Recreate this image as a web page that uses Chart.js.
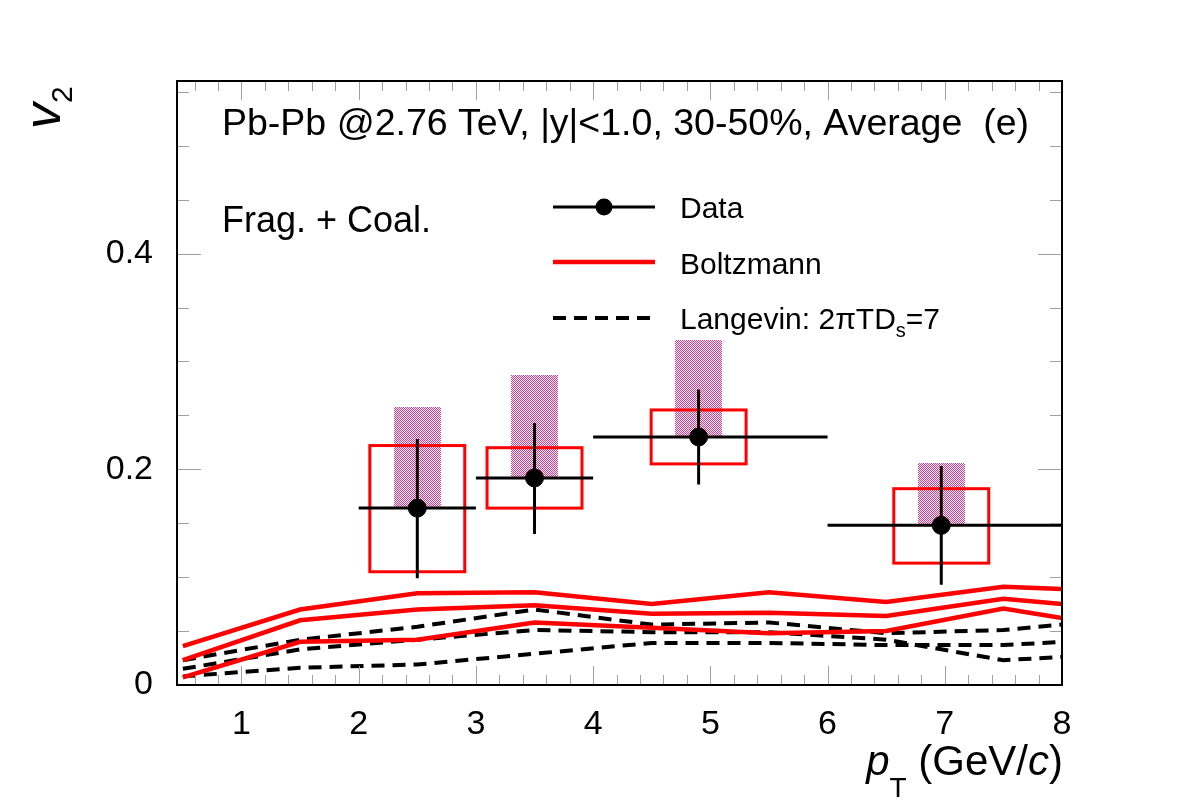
<!DOCTYPE html>
<html>
<head>
<meta charset="utf-8">
<script src="https://cdn.jsdelivr.net/npm/chart.js@4.4.0/dist/chart.umd.min.js"></script>
<style>
  body { margin: 0; background: #fff; }
  #wrap { width: 1182px; height: 807px; }
</style>
</head>
<body>
<div id="wrap"><canvas id="myChart" width="1182" height="807"></canvas></div>
<script>
// model curves, pT grid
var ptGrid     = [0.5, 1.5, 2.5, 3.5, 4.5, 5.5, 6.5, 7.5, 8.0];
var boltzUpper = [0.036, 0.070, 0.085, 0.086, 0.075, 0.086, 0.077, 0.091, 0.089];
var boltzMid   = [0.023, 0.060, 0.070, 0.074, 0.066, 0.067, 0.064, 0.080, 0.075];
var boltzLower = [0.007, 0.040, 0.042, 0.058, 0.053, 0.048, 0.050, 0.071, 0.062];
var langUpper  = [0.023, 0.042, 0.054, 0.070, 0.056, 0.058, 0.048, 0.051, 0.056];
var langMid    = [0.015, 0.033, 0.042, 0.051, 0.049, 0.049, 0.042, 0.023, 0.026];
var langLower  = [0.008, 0.016, 0.019, 0.029, 0.039, 0.039, 0.037, 0.037, 0.040];

// data points
var dataX   = [2.5, 3.5, 4.9, 6.97];
var dataY   = [0.164, 0.192, 0.230, 0.148];
var binLo   = [2.0, 3.0, 4.0, 6.0];
var binHi   = [3.0, 4.0, 6.0, 8.0];
var statLo  = [0.099, 0.140, 0.186, 0.093];
var statHi  = [0.228, 0.243, 0.274, 0.203];
var sysLo   = [0.105, 0.164, 0.205, 0.113];
var sysHi   = [0.222, 0.220, 0.255, 0.182];
var nfHi    = [0.258, 0.287, 0.320, 0.206];

var xTicks = [1, 2, 3, 4, 5, 6, 7, 8];
var yTicks = [0, 0.2, 0.4];

var sysHalfW = 0.405;
var nfHalfW = 0.2;
var FONT = '"Liberation Sans", Arial, sans-serif';

function pts(xs, ys) {
  return xs.map(function(x, i) { return {x: x, y: ys[i]}; });
}

// checker pattern for the pink boxes
var pc = document.createElement('canvas');
pc.width = 2; pc.height = 2;
var pctx = pc.getContext('2d');
pctx.fillStyle = '#ffffff'; pctx.fillRect(0, 0, 2, 2);
pctx.fillStyle = '#f0308a'; pctx.fillRect(0, 0, 1, 1); pctx.fillRect(1, 1, 1, 1);

var boxesPlugin = {
  id: 'boxes',
  beforeDatasetsDraw: function(chart) {
    var ctx = chart.ctx, x = chart.scales.x, y = chart.scales.y;
    ctx.save();
    var pat = ctx.createPattern(pc, 'repeat');
    for (var i = 0; i < dataX.length; i++) {
      var l = x.getPixelForValue(dataX[i] - nfHalfW), r = x.getPixelForValue(dataX[i] + nfHalfW);
      var t = y.getPixelForValue(nfHi[i]), b = y.getPixelForValue(dataY[i]);
      ctx.fillStyle = pat;
      ctx.fillRect(Math.round(l), Math.round(t), Math.round(r - l), Math.round(b - t));
    }
    ctx.strokeStyle = '#ff0000';
    ctx.lineWidth = 3;
    for (var i = 0; i < dataX.length; i++) {
      var l = x.getPixelForValue(dataX[i] - sysHalfW), r = x.getPixelForValue(dataX[i] + sysHalfW);
      var t = y.getPixelForValue(sysHi[i]), b = y.getPixelForValue(sysLo[i]);
      ctx.strokeRect(l, t, r - l, b - t);
    }
    ctx.strokeStyle = '#000';
    ctx.lineWidth = 3;
    for (var i = 0; i < dataX.length; i++) {
      var px = x.getPixelForValue(dataX[i]), py = y.getPixelForValue(dataY[i]);
      ctx.beginPath();
      ctx.moveTo(x.getPixelForValue(binLo[i]), py);
      ctx.lineTo(x.getPixelForValue(binHi[i]), py);
      ctx.moveTo(px, y.getPixelForValue(statLo[i]));
      ctx.lineTo(px, y.getPixelForValue(statHi[i]));
      ctx.stroke();
    }
    ctx.restore();
  }
};

function drawRich(ctx, parts, x, y) {
  // parts: [text, font, dy]
  parts.forEach(function(p) {
    ctx.font = p[1];
    ctx.fillText(p[0], x, y + (p[2] || 0));
    x += ctx.measureText(p[0]).width;
  });
  return x;
}

function richWidth(ctx, parts) {
  var w = 0;
  parts.forEach(function(p) { ctx.font = p[1]; w += ctx.measureText(p[0]).width; });
  return w;
}

var framePlugin = {
  id: 'frame',
  afterDraw: function(chart) {
    var ctx = chart.ctx, x = chart.scales.x, y = chart.scales.y, a = chart.chartArea;
    ctx.save();
    // ticks
    ctx.strokeStyle = '#a0a0a0';
    ctx.lineWidth = 1;
    ctx.beginPath();
    for (var v = 0.6; v < 8.01; v += 0.2) {
      var px = Math.round(x.getPixelForValue(v)) + 0.5;
      var major = Math.abs(v - Math.round(v)) < 0.01;
      var len = major ? 19 : 10;
      ctx.moveTo(px, a.bottom); ctx.lineTo(px, a.bottom - len);
      ctx.moveTo(px, a.top); ctx.lineTo(px, a.top + len);
    }
    for (var k = 1; k * 0.05 < 0.56; k++) {
      var w = k * 0.05;
      var py = Math.round(y.getPixelForValue(w)) + 0.5;
      var len = (k % 4 === 0) ? 24 : 12;
      ctx.moveTo(a.left, py); ctx.lineTo(a.left + len, py);
      ctx.moveTo(a.right, py); ctx.lineTo(a.right - len, py);
    }
    ctx.stroke();
    // frame
    ctx.strokeStyle = '#000';
    ctx.lineWidth = 2;
    ctx.strokeRect(a.left, a.top, a.right - a.left, a.bottom - a.top);

    // tick labels
    ctx.fillStyle = '#000';
    ctx.font = '34px ' + FONT;
    ctx.textAlign = 'center';
    ctx.textBaseline = 'alphabetic';
    xTicks.forEach(function(t) {
      ctx.fillText(String(t), x.getPixelForValue(t), 734);
    });
    ctx.textAlign = 'right';
    ctx.textBaseline = 'middle';
    yTicks.forEach(function(t) {
      ctx.fillText(String(t), 153, y.getPixelForValue(t));
    });

    // axis titles
    ctx.textAlign = 'left';
    ctx.textBaseline = 'alphabetic';
    var xt = [['p', 'italic 42px ' + FONT], ['T', '28px ' + FONT, 22], [' (GeV/', '42px ' + FONT],
              ['c', 'italic 42px ' + FONT], [')', '42px ' + FONT]];
    drawRich(ctx, xt, 1063 - richWidth(ctx, xt), 775);

    ctx.save();
    ctx.translate(60, 129);
    ctx.rotate(-Math.PI / 2);
    drawRich(ctx, [['v', 'italic 52px ' + FONT], ['2', '30px ' + FONT, 12]], 0, 0);
    ctx.restore();

    // labels
    ctx.font = '37.5px ' + FONT;
    ctx.fillText('Pb-Pb @2.76 TeV, |y|<1.0, 30-50%, Average  (e)', 222, 135);
    ctx.font = '36px ' + FONT;
    ctx.fillText('Frag. + Coal.', 222, 232);

    // legend
    var lx0 = 553, lx1 = 655, tx = 680;
    ctx.lineWidth = 3;
    ctx.strokeStyle = '#000';
    ctx.beginPath(); ctx.moveTo(lx0, 207); ctx.lineTo(lx1, 207); ctx.stroke();
    ctx.fillStyle = '#000';
    ctx.beginPath(); ctx.arc((lx0 + lx1) / 2, 207, 8.5, 0, Math.PI * 2); ctx.fill();
    ctx.lineWidth = 4.5;
    ctx.strokeStyle = '#ff0000';
    ctx.beginPath(); ctx.moveTo(lx0, 262); ctx.lineTo(lx1, 262); ctx.stroke();
    ctx.lineWidth = 4;
    ctx.strokeStyle = '#000';
    ctx.setLineDash([13, 8]);
    ctx.beginPath(); ctx.moveTo(lx0, 318); ctx.lineTo(lx1, 318); ctx.stroke();
    ctx.setLineDash([]);
    ctx.font = '30px ' + FONT;
    ctx.fillText('Data', tx, 218);
    ctx.fillText('Boltzmann', tx, 274);
    drawRich(ctx, [['Langevin: 2\u03C0TD', '30px ' + FONT], ['s', '20px ' + FONT, 8], ['=7', '30px ' + FONT]], tx, 329);
    ctx.restore();
  }
};

function modelLine(label, ys, color, dash) {
  return {
    label: label,
    data: pts(ptGrid, ys),
    showLine: true,
    borderColor: color,
    borderWidth: dash ? 4 : 4.5,
    borderDash: dash ? [13, 8] : [],
    pointRadius: 0,
    tension: 0,
    fill: false
  };
}

var ctx = document.getElementById('myChart').getContext('2d');
var chart = new Chart(ctx, {
  type: 'scatter',
  data: {
    datasets: [
      {
        label: 'Data',
        data: pts(dataX, dataY),
        backgroundColor: '#000',
        borderColor: '#000',
        pointRadius: 9,
        pointHoverRadius: 9,
        showLine: false
      },
      modelLine('Boltzmann', boltzUpper, '#ff0000', false),
      modelLine('Boltzmann', boltzMid, '#ff0000', false),
      modelLine('Boltzmann', boltzLower, '#ff0000', false),
      modelLine('Langevin', langUpper, '#000', true),
      modelLine('Langevin', langMid, '#000', true),
      modelLine('Langevin', langLower, '#000', true)
    ]
  },
  options: {
    responsive: false,
    animation: false,
    layout: { padding: { left: 177, top: 81, right: 120, bottom: 122 } },
    scales: {
      x: { type: 'linear', min: 0.45, max: 8, display: false },
      y: { type: 'linear', min: 0, max: 0.56, display: false }
    },
    plugins: {
      legend: { display: false },
      tooltip: { enabled: false }
    }
  },
  plugins: [boxesPlugin, framePlugin]
});
</script>
</body>
</html>
